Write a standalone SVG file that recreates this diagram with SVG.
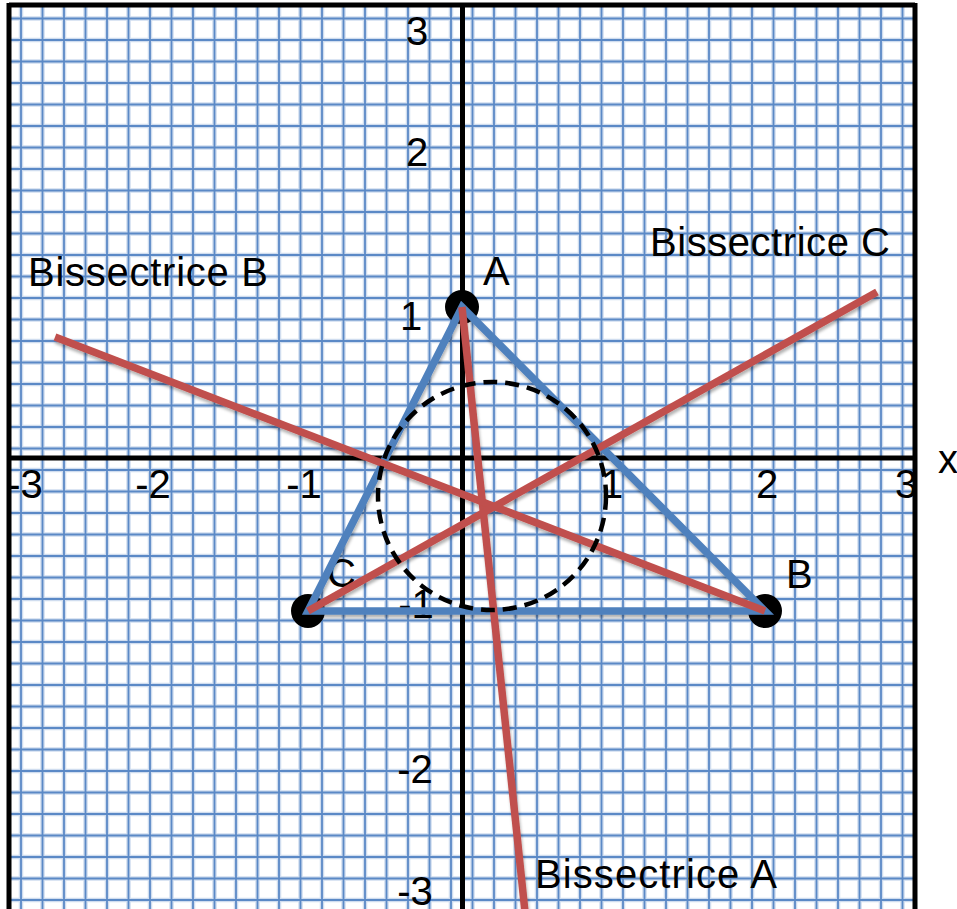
<svg xmlns="http://www.w3.org/2000/svg" width="957" height="909" viewBox="0 0 957 909">
  <defs>
    <style>
      .gh { fill: none; stroke: #d0ddef; stroke-width: 4.5; }
      .gc { fill: none; stroke: #5b89c6; stroke-width: 1.8; }
      .ax { fill: none; stroke: #000; stroke-width: 5; }
      .t { font-family: "Liberation Sans", Arial, sans-serif; font-size: 40px; fill: #000; }
      .num { text-anchor: middle; }
      .dot { fill: #000; }
      .side { fill: none; stroke: #4f81bd; stroke-width: 7.5; stroke-linecap: round; }
      .bis { fill: none; stroke: #c0504d; stroke-width: 7.5; }
      .inc { fill: none; stroke: #000; stroke-width: 4.5; stroke-dasharray: 14 8; }
    </style>
    <clipPath id="plot">
      <rect x="9" y="5" width="906" height="904"/>
    </clipPath>
    <filter id="sh" x="-10%" y="-10%" width="120%" height="120%">
      <feDropShadow dx="1" dy="3" stdDeviation="1.5" flood-color="#000" flood-opacity="0.3"/>
    </filter>
    <path id="grid" d="M21 0V909M42.5 0V909M64 0V909M85.5 0V909M107 0V909M128.5 0V909M150 0V909M171.5 0V909M193 0V909M214.5 0V909M236 0V909M257.5 0V909M279 0V909M300.5 0V909M322 0V909M343.5 0V909M365 0V909M386.5 0V909M408 0V909M429.5 0V909M451 0V909M472.5 0V909M494 0V909M515.5 0V909M537 0V909M558.5 0V909M580 0V909M601.5 0V909M623 0V909M644.5 0V909M666 0V909M687.5 0V909M709 0V909M730.5 0V909M752 0V909M773.5 0V909M795 0V909M816.5 0V909M838 0V909M859.5 0V909M881 0V909M902.5 0V909M0 18.5H957M0 40H957M0 61.5H957M0 83H957M0 104.5H957M0 126H957M0 147.5H957M0 169H957M0 190.5H957M0 212H957M0 233.5H957M0 255H957M0 276.5H957M0 298H957M0 319.5H957M0 341H957M0 362.5H957M0 384H957M0 405.5H957M0 427H957M0 448.5H957M0 470H957M0 491.5H957M0 513H957M0 534.5H957M0 556H957M0 577.5H957M0 599H957M0 620.5H957M0 642H957M0 663.5H957M0 685H957M0 706.5H957M0 728H957M0 749.5H957M0 771H957M0 792.5H957M0 814H957M0 835.5H957M0 857H957M0 878.5H957M0 900H957"/>
  </defs>

  <rect x="0" y="0" width="957" height="909" fill="#fff"/>

  <g id="grid-paper" clip-path="url(#plot)">
    <use href="#grid" class="gh"/>
    <use href="#grid" class="gc"/>
  </g>

  <g id="axes">
    <path class="ax" d="M9 5H915M9 3V909M915 3V909"/>
    <path class="ax" d="M462.5 5V909M9 458H915"/>
  </g>

  <g id="axis-labels" class="t num">
    <text x="417" y="45">3</text>
    <text x="417" y="166">2</text>
    <text x="411" y="330">1</text>
    <text x="416" y="618">-1</text>
    <text x="415" y="783">-2</text>
    <text x="415" y="905">-3</text>
    <text x="25" y="498">-3</text>
    <text x="153" y="498">-2</text>
    <text x="304" y="498">-1</text>
    <text x="612" y="498">1</text>
    <text x="767" y="498">2</text>
    <text x="906" y="498">3</text>
    <text x="948" y="473">x</text>
  </g>

  <g id="bisector-labels" class="t">
    <text x="28" y="286" textLength="240" lengthAdjust="spacing">Bissectrice B</text>
    <text x="650" y="256" textLength="240" lengthAdjust="spacing">Bissectrice C</text>
    <text x="535" y="888" textLength="242" lengthAdjust="spacing">Bissectrice A</text>
  </g>

  <g id="node-A">
    <circle class="dot" cx="462" cy="307" r="17"/>
    <text class="t" x="483" y="285">A</text>
  </g>
  <g id="node-B">
    <circle class="dot" cx="765" cy="611" r="17"/>
    <text class="t" x="786" y="588">B</text>
  </g>
  <g id="node-C">
    <circle class="dot" cx="308" cy="611" r="17"/>
    <text class="t" x="327" y="587">C</text>
  </g>

  <g id="connectors" filter="url(#sh)">
    <path class="side" d="M462 307L765 611L308 611Z"/>
    <line class="bis" x1="462" y1="307" x2="525" y2="912"/>
    <line class="bis" x1="765" y1="611" x2="55" y2="337"/>
    <line class="bis" x1="308" y1="611" x2="877" y2="292"/>
  </g>

  <g id="incircle">
    <circle class="inc" cx="492" cy="496" r="114"/>
  </g>
</svg>
